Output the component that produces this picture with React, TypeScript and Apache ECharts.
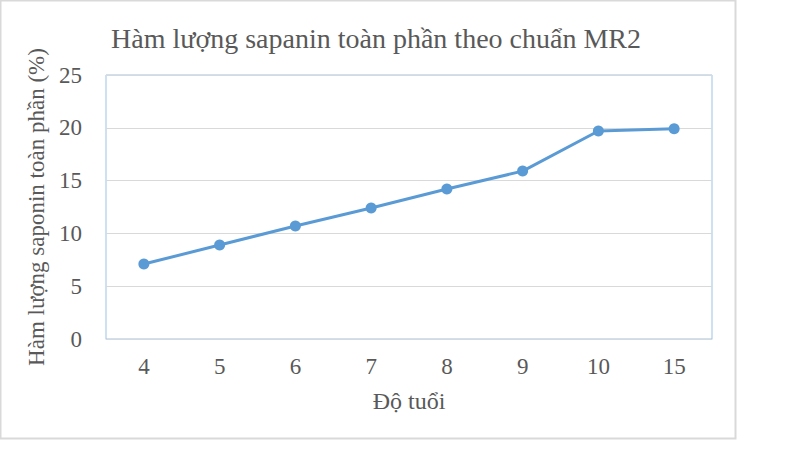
import React, { useEffect, useRef } from "react";
import * as echarts from "echarts";

const categories = ["4", "5", "6", "7", "8", "9", "10", "15"];
const saponinValues = [7.1, 8.9, 10.7, 12.4, 14.2, 15.9, 19.7, 19.9];
const yTicks = { min: 0, max: 25, interval: 5 };

const titleText = "Hàm lượng sapanin toàn phần theo chuẩn MR2";
const xName = "Độ tuổi";
const yName = "Hàm lượng saponin toàn phần (%)";

const FONT = "Liberation Serif";
const TXT = "#595959";

export default function App() {
  const ref = useRef<HTMLDivElement>(null);
  useEffect(() => {
    document.body.style.margin = "0";
    const chart = echarts.init(ref.current!, undefined, { renderer: "svg" });
    chart.setOption({
      animation: false,
      backgroundColor: "#ffffff",
      title: {
        text: titleText,
        left: 371,
        textAlign: "center",
        top: 19,
        textStyle: { fontFamily: FONT, fontSize: 28, fontWeight: "normal", color: TXT },
      },
      graphic: [
        {
          type: "rect",
          shape: { x: 0.5, y: 0.5, width: 735, height: 438 },
          style: { fill: "none", stroke: "#d9d9d9", lineWidth: 2 },
          silent: true,
        },
      ],
      grid: {
        left: 106,
        top: 75,
        right: 88,
        bottom: 110,
        show: true,
        borderColor: "#9dc3e6",
        borderWidth: 1,
        containLabel: false,
      },
      xAxis: {
        type: "category",
        data: categories,
        boundaryGap: true,
        name: xName,
        nameLocation: "middle",
        nameGap: 50,
        nameTextStyle: { fontFamily: FONT, fontSize: 24, color: TXT },
        axisLine: { show: true, lineStyle: { color: "#d9d9d9", width: 1 } },
        axisTick: { show: false },
        axisLabel: { margin: 16, fontFamily: FONT, fontSize: 23, color: TXT },
      },
      yAxis: {
        type: "value",
        min: yTicks.min,
        max: yTicks.max,
        interval: yTicks.interval,
        name: yName,
        nameLocation: "middle",
        nameGap: 58,
        nameTextStyle: { fontFamily: FONT, fontSize: 23, color: TXT },
        axisLine: { show: false },
        axisTick: { show: false },
        axisLabel: { margin: 24, fontFamily: FONT, fontSize: 23, color: TXT },
        splitLine: { show: true, lineStyle: { color: "#d9d9d9", width: 1 } },
      },
      series: [
        {
          type: "line",
          data: saponinValues,
          symbol: "circle",
          symbolSize: 11,
          lineStyle: { color: "#5b9bd5", width: 3 },
          itemStyle: { color: "#5b9bd5" },
        },
      ],
    });
    return () => chart.dispose();
  }, []);
  return (
    <div
      ref={ref}
      style={{ position: "absolute", left: 0, top: 0, width: 800, height: 449 }}
    />
  );
}
